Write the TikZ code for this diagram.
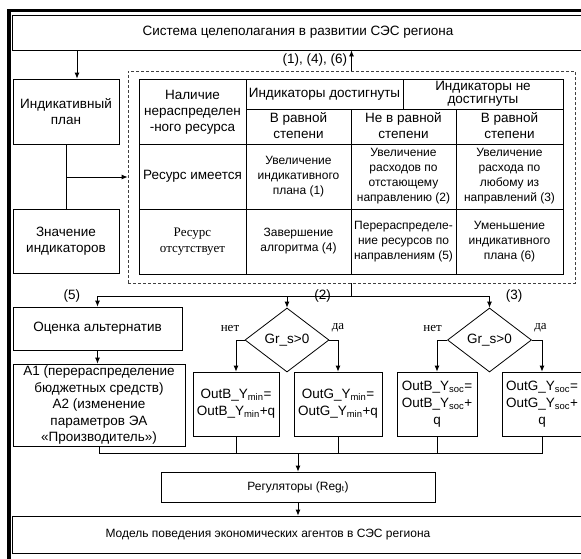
\documentclass[tikz,border=0pt]{standalone}
\usepackage{fontspec}
\setmainfont{Liberation Sans}
\newfontfamily\serifcyr{Liberation Serif}
\usetikzlibrary{arrows.meta,positioning,shapes.geometric}

\begin{document}
\begin{tikzpicture}[x=1pt,y=-1pt,>={Latex[length=6pt,width=5pt]},line width=0.8pt,
  every node/.style={font=\fontsize{13.5}{16}\selectfont}]
\tikzstyle{blk}=[draw, align=center, inner sep=1pt]
\tikzstyle{cell}=[align=center, inner sep=0pt, font=\fontsize{12}{15}\selectfont]
\tikzstyle{lbl}=[inner sep=0pt, font=\serifcyr\fontsize{13}{15}\selectfont]
\tikzstyle{dia}=[draw, diamond, aspect=1.3, inner sep=0pt, minimum width=84pt, minimum height=64pt]
\tikzstyle{calc}=[blk, minimum height=64pt, font=\fontsize{13.5}{17}\selectfont]
\useasboundingbox (0,0) rectangle (581,558);
\clip (0,0) rectangle (581,558);
% frame
\draw[line width=3.5pt] (9,565) -- (9,10.5) -- (590,10.5);
\node[blk, minimum width=572pt, minimum height=35pt] (goal) at (298,32.5) {Система целеполагания в развитии СЭС региона};
\node[blk, minimum width=106pt, minimum height=65pt] (plan) at (66,111.5) {Индикативный\\план};
\node[blk, minimum width=106pt, minimum height=64pt] (ind) at (66,241) {Значение\\индикаторов};
\node[draw, densely dashed, black!75, minimum width=447pt, minimum height=212pt] (alg) at (351.5,177) {};
% table
\draw (139,79) rectangle (563,274);
\draw (246,79) -- (246,274);
\draw (403,79) -- (403,109);
\draw (351,109) -- (351,274);
\draw (456,109) -- (456,274);
\draw (246,109) -- (563,109);
\draw (139,144) -- (563,144);
\draw (139,209) -- (563,209);
\node[align=center, inner sep=0pt] (res) at (192.5,112) {Наличие\\нераспределен\\-ного ресурса};
\node[inner sep=0pt] (hit) at (324.5,94) {Индикаторы достигнуты};
\node[align=center, inner sep=0pt, font=\fontsize{13.5}{13}\selectfont] (miss) at (483,94) {Индикаторы не\\достигнуты};
\node[align=center, inner sep=0pt] (eq1) at (298.5,126) {В равной\\степени};
\node[align=center, inner sep=0pt] (neq) at (403.5,126) {Не в равной\\степени};
\node[align=center, inner sep=0pt] (eq2) at (509.5,126) {В равной\\степени};
\node[inner sep=0pt] (has) at (192.5,176.5) {Ресурс имеется};
\node[cell] (c1) at (298.5,176.5) {Увеличение\\индикативного\\плана (1)};
\node[cell] (c2) at (403.5,176.5) {Увеличение\\расходов по\\отстающему\\направлению (2)};
\node[cell] (c3) at (509.5,176.5) {Увеличение\\расхода по\\любому из\\направлений (3)};
\node[align=center, inner sep=0pt, font=\serifcyr\fontsize{13}{16}\selectfont] (none) at (192.5,241.5) {Ресурс\\отсутствует};
\node[cell] (c4) at (298.5,241.5) {Завершение\\алгоритма (4)};
\node[cell] (c5) at (403.5,241.5) {Перераспределе-\\ние ресурсов по\\направлениям (5)};
\node[cell] (c6) at (509.5,241.5) {Уменьшение\\индикативного\\плана (6)};
% lower part
\node[blk, minimum width=169pt, minimum height=43pt] (alt) at (97.5,328.5) {Оценка альтернатив};
\node[blk, minimum width=172pt, minimum height=82pt, font=\fontsize{13.5}{16.5}\selectfont] (opts) at (99,405) {A1 (перераспределение\\бюджетных средств)\\A2 (изменение\\параметров ЭА\\«Производитель»)};
\node[dia] (cmp1) at (287,340) {Gr\_s>0};
\node[dia] (cmp2) at (489.5,340) {Gr\_s>0};
\node[calc, minimum width=86pt] (bmin) at (236,404) {OutB\_Y\textsubscript{min}=\\OutB\_Y\textsubscript{min}+q};
\node[calc, minimum width=88pt] (gmin) at (338,404) {OutG\_Y\textsubscript{min}=\\OutG\_Y\textsubscript{min}+q};
\node[calc, minimum width=80pt] (bsoc) at (437,404) {OutB\_Y\textsubscript{soc}=\\OutB\_Y\textsubscript{soc}+\\q};
\node[calc, minimum width=80pt] (gsoc) at (542,404) {OutG\_Y\textsubscript{soc}=\\OutG\_Y\textsubscript{soc}+\\q};
\node[blk, minimum width=274pt, minimum height=30pt, font=\fontsize{12}{14}\selectfont] (reg) at (298,487) {Регуляторы (Reg\textsubscript{t})};
\node[blk, minimum width=578pt, minimum height=37pt] (model) at (301,534.5) {};
\node[font=\fontsize{12}{14}\selectfont] (modeltxt) at (268,535) {Модель поведения экономических агентов в СЭС региона};
\node[lbl, above left=8pt and 5pt of cmp1.west] (no1) {нет};
\node[lbl, above right=8pt and 2pt of cmp1.east] (yes1) {да};
\node[lbl, above left=8pt and 5pt of cmp2.west] (no2) {нет};
\node[lbl, above right=8pt and 2pt of cmp2.east] (yes2) {да};
% connectors
\draw[->] ([xshift=11pt]plan.north |- goal.south) -- ([xshift=11pt]plan.north);
\draw (plan) -- (ind);
\coordinate (mid) at (66,177);
\draw[->] (mid) -- (alg.west);
\draw[->] (alg.north) -- (alg.north |- goal.south) node[midway, left, inner sep=4pt] (up) {(1), (4), (6)};
\coordinate (split) at (351.5,296);
\draw (alg.south) -- (split);
\draw[->] (split) -| (alt.north);
\draw[->] (split) -| (cmp1.north);
\draw[->] (split) -| (cmp2.north);
\path (split -| alt.north) node[left=17pt, inner sep=0pt] (n5) {(5)};
\path (split -| cmp1.north) node[right=27pt, inner sep=0pt] (n2) {(2)};
\path (split -| cmp2.north) node[right=16pt, inner sep=0pt] (n3) {(3)};
\draw[->] (cmp1.west) -| (bmin.north);
\draw[->] (cmp1.east) -| (gmin.north);
\draw[->] (cmp2.west) -| (bsoc.north);
\draw[->] (cmp2.east) -| (gsoc.north);
\draw[->] (alt.south) -- (alt.south |- opts.north);
\coordinate (join) at (298,453);
\draw (opts.south) |- (join) -| (gsoc.south);
\draw (bmin.south) -- (bmin.south |- join);
\draw (gmin.south) -- (gmin.south |- join);
\draw (bsoc.south) -- (bsoc.south |- join);
\draw[->] (join) -- (reg.north);
\draw[->] (reg.south) -- (reg.south |- model.north);
\end{tikzpicture}
\end{document}
